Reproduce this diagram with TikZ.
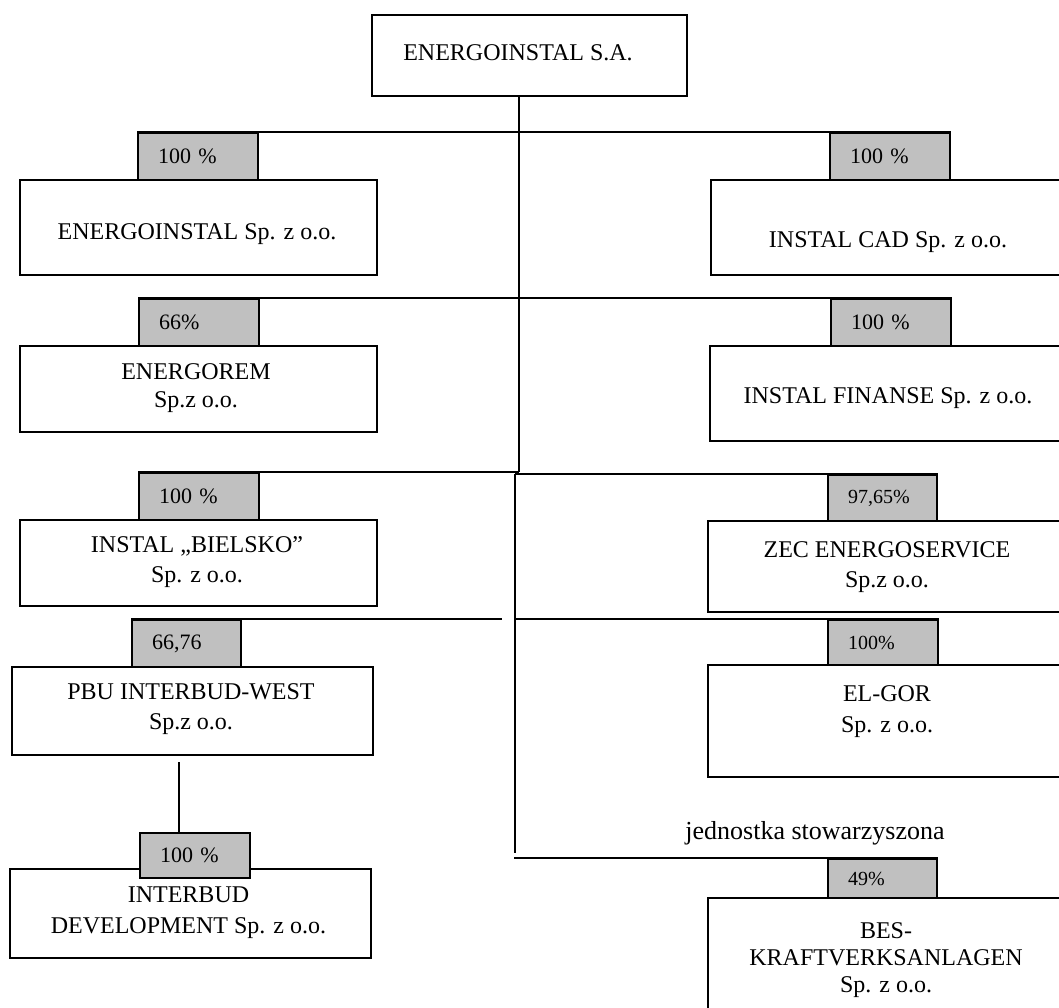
\documentclass[tikz,border=0pt]{standalone}
\usepackage{fontspec}
\setmainfont{Liberation Serif}
\definecolor{sharegray}{RGB}{192,192,192}

\begin{document}
\begin{tikzpicture}[x=0.5pt, y=-0.5pt,
  firm/.style={draw, line width=1pt, anchor=north west, inner sep=0pt},
  firmtxt/.style={align=center, inner sep=0pt, font=\fontsize{12}{15}\selectfont},
  share/.style={draw, line width=1pt, fill=sharegray, anchor=north west,
    inner ysep=0pt, inner xsep=10pt, align=left, font=\fontsize{11}{13}\selectfont},
  wide/.style={minimum width=60pt, text width=40pt},
  narrow/.style={minimum width=54.5pt, text width=34.5pt},
  link/.style={line width=0.75pt}]
  \useasboundingbox (0,0) rectangle (1059,1007);

  % parent company
  \node[firm, minimum width=157.5pt, minimum height=40.5pt] (top) at (371,14) {};
  \node[firmtxt] (toptxt) at (518,53) {ENERGOINSTAL S.A.};

  % left column
  \node[firm, minimum width=178.5pt, minimum height=47.5pt] (eisp) at (19,179) {};
  \node[firmtxt] (eisptxt) at (197,234.5) {ENERGOINSTAL Sp. z o.o.};
  \node[share, wide, minimum height=23.5pt] (p1) at (137,132) {100 \%};

  \node[firm, minimum width=178.5pt, minimum height=43pt] (erem) at (19,345) {};
  \node[firmtxt, font=\fontsize{12}{14}\selectfont] (eremtxt) at (196,388.5) {ENERGOREM\\Sp.z o.o.};
  \node[share, wide, minimum height=23.5pt] (p3) at (138,298) {66\%};

  \node[firm, minimum width=178.5pt, minimum height=43pt] (biel) at (19,519) {};
  \node[firmtxt] (bieltxt) at (197,562) {INSTAL „BIELSKO”\\Sp. z o.o.};
  \node[share, wide, minimum height=23.5pt] (p5) at (138,472) {100 \%};

  \node[firm, minimum width=180.5pt, minimum height=44pt] (pbu) at (11,666) {};
  \node[firmtxt] (pbutxt) at (191,709.5) {PBU INTERBUD-WEST\\Sp.z o.o.};
  \node[share, narrow, minimum height=23.5pt] (p7) at (131,619) {66,76};

  \node[firm, minimum width=180.5pt, minimum height=44.5pt] (idev) at (9,868) {};
  \node[firmtxt, font=\fontsize{12}{15.5}\selectfont] (idevtxt) at (188.5,913) {INTERBUD\\DEVELOPMENT Sp. z o.o.};
  \node[share, minimum width=55pt, text width=35pt, minimum height=22.5pt] (p9) at (139,832) {100 \%};

  % right column
  \node[firm, minimum width=180pt, minimum height=47.5pt] (cad) at (710,179) {};
  \node[firmtxt] (cadtxt) at (888,242.5) {INSTAL CAD Sp. z o.o.};
  \node[share, wide, minimum height=23.5pt] (p2) at (829,132) {100 \%};

  \node[firm, minimum width=180.5pt, minimum height=47.5pt] (fin) at (709,345) {};
  \node[firmtxt] (fintxt) at (888,398) {INSTAL FINANSE Sp. z o.o.};
  \node[share, wide, minimum height=23.5pt] (p4) at (830,298) {100 \%};

  \node[firm, minimum width=181.5pt, minimum height=45.5pt] (zec) at (707,520) {};
  \node[firmtxt] (zectxt) at (887,567.5) {ZEC ENERGOSERVICE\\Sp.z o.o.};
  \node[share, narrow, minimum height=23pt, font=\fontsize{10}{12}\selectfont] (p6) at (827,474) {97,65\%};

  \node[firm, minimum width=181.5pt, minimum height=56pt] (elgor) at (707,664) {};
  \node[firmtxt, font=\fontsize{12}{15.5}\selectfont] (elgortxt) at (887,712) {EL-GOR\\Sp. z o.o.};
  \node[share, minimum width=55pt, text width=35pt, minimum height=22.5pt, font=\fontsize{10}{12}\selectfont] (p8) at (827,619) {100\%};

  \node[font=\fontsize{13}{15}\selectfont, anchor=base, inner sep=0pt] (assoc) at (815,839) {jednostka stowarzyszona};

  \node[firm, minimum width=181.5pt, minimum height=61.5pt] (bes) at (707,897) {};
  \node[firmtxt, font=\fontsize{12}{13.5}\selectfont] (bestxt) at (886,960.5) {BES-\\KRAFTVERKSANLAGEN\\Sp. z o.o.};
  \node[share, narrow, minimum height=19.5pt, font=\fontsize{10}{12}\selectfont] (p10) at (827,858) {49\%};

  % connectors
  \coordinate (ta) at (519,472);
  \coordinate (tb) at (515,474);
  \coordinate (tc) at (515,853);
  \coordinate (td) at (514,858);
  \coordinate (te) at (502,619);
  \coordinate (tf) at (179,762);

  \draw[link] (top.south -| ta) -- (ta);
  \draw[link] (p1.north west) -- (p2.north east);
  \draw[link] (p3.north west) -- (p4.north east);
  \draw[link] (p5.north west) -- (ta);
  \draw[link] (tb) -- (p6.north east);
  \draw[link] (tb) -- (tc);
  \draw[link] (p7.north west) -- (te);
  \draw[link] (tb |- p8.north) -- (p8.north east);
  \draw[link] (td) -- (p10.north east);
  \draw[link] (tf) -- (tf |- p9.north);
\end{tikzpicture}
\end{document}
